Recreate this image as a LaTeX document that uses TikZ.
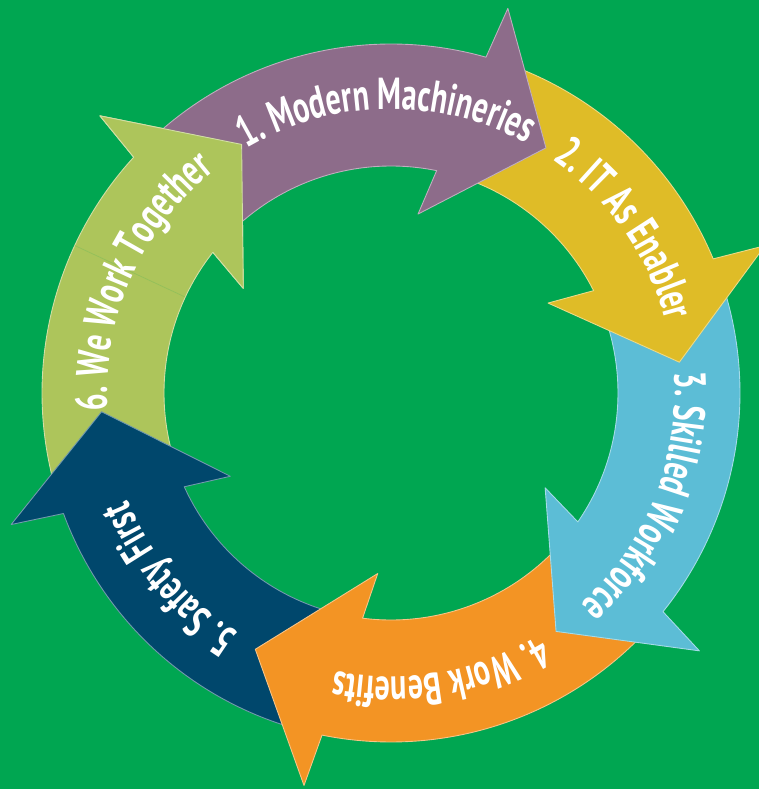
\documentclass[tikz,border=0pt]{standalone}
\usepackage{fontspec}
\usetikzlibrary{decorations.text}
\newfontfamily\stagefont{PT Sans}[FakeStretch=0.67]
\definecolor{bggreen}{HTML}{00A651}
\definecolor{onecol}{HTML}{8D6C8A}
\definecolor{twocol}{HTML}{DFBC27}
\definecolor{threecol}{HTML}{5CBDD6}
\definecolor{fourcol}{HTML}{F39424}
\definecolor{fivecol}{HTML}{00476C}
\definecolor{sixcol}{HTML}{ADC55B}
\begin{document}
\begin{tikzpicture}[x=0.2mm, y=0.2mm,
  stage/.style={fill=#1, draw=#1!55!white, line width=0.5pt, line join=round},
  stage label/.style={decorate, decoration={text along path, text align=center,
    text={|\stagefont\bfseries\fontsize{25.5}{28}\selectfont\color{white}|#1}}}]

  % background
  \fill[bggreen] (-391,-396) rectangle (368,393);
  \useasboundingbox (-391,-396) rectangle (368,393);

  % the six arrows, each head lying on the next tail
  \foreach \tip/\tail/\col in {121/195.7/sixcol, -176.3/-105.9/fivecol, -117.9/-43.3/fourcol,
      -55.3/18.1/threecol, 6.1/69.7/twocol, 57.7/133/onecol}
    \filldraw[stage=\col] (\tail:349) arc[start angle=\tail, end angle={\tip+16.5}, radius=349]
      -- ({\tip+15.4}:402) -- (\tip:290) -- ({\tip+23.7}:181) -- ({\tip+20.7}:227)
      arc[start angle={\tip+20.7}, end angle=\tail, radius=227] -- cycle;

  % head of 6 over the tail of 1
  \fill[sixcol] (136.4:402) -- (121:290) -- (144.7:181) -- cycle;
  \draw[sixcol!55!white, line width=0.5pt, line join=round]
    (137.5:349) -- (136.4:402) -- (121:290) -- (144.7:181) -- (141.7:227);
  \draw[sixcol!85!bggreen, line width=0.4pt] (155:227) -- (155:349);

  % labels
  \path[stage label={1. Modern Machineries}] (136:284) arc[start angle=136, end angle=46, radius=284];
  \path[stage label={2. IT As Enabler}] (80:284) arc[start angle=80, end angle=-10, radius=284];
  \path[stage label={3. Skilled Workforce}] (23:284) arc[start angle=23, end angle=-67, radius=284];
  \path[stage label={4. Work Benefits}] (-35:284) arc[start angle=-35, end angle=-125, radius=284];
  \path[stage label={5. Safety First}] (265:284) arc[start angle=265, end angle=175, radius=284];
  \path[stage label={6. We Work Together}] (201:284) arc[start angle=201, end angle=111, radius=284];

\end{tikzpicture}
\end{document}
